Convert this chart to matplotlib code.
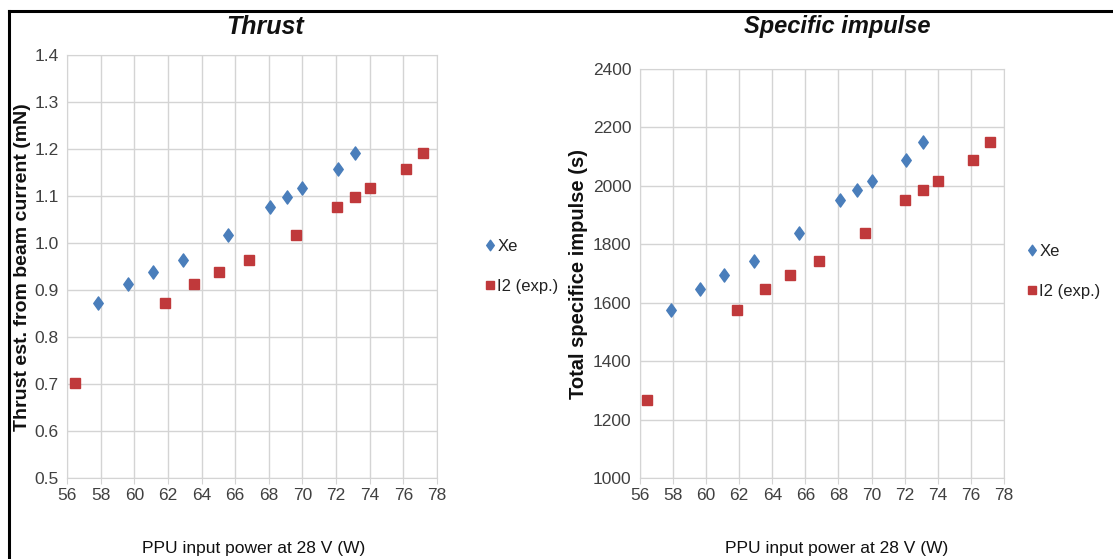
import matplotlib
matplotlib.use("Agg")
import matplotlib.pyplot as plt
from matplotlib.lines import Line2D
from matplotlib.path import Path

# datos
potencia_xe = [57.85, 59.6, 61.1, 62.9, 65.6, 68.1, 69.1, 70.0, 72.1, 73.1]
potencia_i2 = [56.45, 61.85, 63.55, 65.05, 66.85, 69.6, 72.05, 73.1, 74.0, 76.15, 77.15]

empuje_xe = [0.873, 0.912, 0.938, 0.963, 1.018, 1.077, 1.098, 1.117, 1.157, 1.192]
empuje_i2 = [0.703, 0.873, 0.912, 0.938, 0.963, 1.018, 1.077, 1.098, 1.117, 1.157, 1.192]

isp_xe = [1575, 1648, 1695, 1742, 1838, 1950, 1985, 2018, 2090, 2150]
isp_i2 = [1268, 1575, 1648, 1695, 1742, 1838, 1950, 1985, 2018, 2090, 2150]

ticks_x = list(range(56, 79, 2))
ticks_empuje = [0.5, 0.6, 0.7, 0.8, 0.9, 1.0, 1.1, 1.2, 1.3, 1.4]
ticks_isp = [1000, 1200, 1400, 1600, 1800, 2000, 2200, 2400]

AZUL = '#4a7ebb'
ROJO = '#c0393b'
GRIS = '#d4d4d4'
TEXTO = '#404040'

plt.rcParams['font.family'] = ['Liberation Sans', 'DejaVu Sans']

# rombo un poco mas alto que ancho, como el de Excel
rombo = Path([(0, 1), (0.72, 0), (0, -1), (-0.72, 0), (0, 1)],
             [Path.MOVETO, Path.LINETO, Path.LINETO, Path.LINETO, Path.CLOSEPOLY])

fig = plt.figure(figsize=(11.13, 5.59), dpi=100)
ax1 = fig.add_axes([0.0602, 0.1449, 0.3324, 0.7567])
ax2 = fig.add_axes([0.575, 0.1449, 0.327, 0.7317])


def preparar_eje(ax, ticks_y, formato):
    ax.set_xlim(56, 78)
    ax.set_xticks(ticks_x)
    ax.set_ylim(ticks_y[0], ticks_y[-1])
    ax.set_yticks(ticks_y)
    ax.set_yticklabels([formato.format(t) for t in ticks_y])
    ax.grid(True, color=GRIS, linewidth=1.0)
    ax.set_axisbelow(True)
    for lado in ax.spines.values():
        lado.set_color(GRIS)
    ax.tick_params(axis='both', labelsize=12.5, colors=TEXTO, length=0, pad=6)
    ax.tick_params(axis='x', length=4, color=GRIS, pad=3)


preparar_eje(ax1, ticks_empuje, '{:.1f}')
preparar_eje(ax2, ticks_isp, '{:.0f}')

for ax, y_xe, y_i2 in [(ax1, empuje_xe, empuje_i2), (ax2, isp_xe, isp_i2)]:
    ax.plot(potencia_xe, y_xe, linestyle='none', marker=rombo, markersize=9.5,
            color=AZUL, label='Xe', clip_on=False)
    ax.plot(potencia_i2, y_i2, linestyle='none', marker='s', markersize=6.5,
            color=ROJO, label='I2 (exp.)', clip_on=False)

# titulos
fig.text(0.238, 0.952, 'Thrust', ha='center', va='center', fontsize=18,
         fontweight='bold', fontstyle='italic', color='#111111')
fig.text(0.752, 0.952, 'Specific impulse', ha='center', va='center', fontsize=17,
         fontweight='bold', fontstyle='italic', color='#111111')

# etiquetas de los ejes
fig.text(0.228, 0.018, 'PPU input power at 28 V (W)', ha='center', va='center',
         fontsize=12.5, color='#111111')
fig.text(0.752, 0.018, 'PPU input power at 28 V (W)', ha='center', va='center',
         fontsize=12.5, color='#111111')
fig.text(0.0205, 0.522, 'Thrust est. from beam current (mN)', rotation=90,
         ha='center', va='center', fontsize=14, fontweight='bold', color='#111111')
fig.text(0.5195, 0.51, 'Total specifice impulse (s)', rotation=90,
         ha='center', va='center', fontsize=14.5, fontweight='bold', color='#111111')

# leyendas
for ax, ancla in [(ax1, (0.42, 0.6)), (ax2, (0.907, 0.59))]:
    ax.legend(loc='upper left', bbox_to_anchor=ancla, bbox_transform=fig.transFigure,
              frameon=False, fontsize=12, handletextpad=0.0, handlelength=0.9,
              labelspacing=1.5, markerscale=0.8, labelcolor='#222222')

# marco de la figura (solo arriba y a la izquierda)
fig.add_artist(Line2D([0.008, 1.0], [0.980, 0.980], transform=fig.transFigure,
                      color='black', linewidth=2.2))
fig.add_artist(Line2D([0.008, 0.008], [0.0, 0.980], transform=fig.transFigure,
                      color='black', linewidth=2.2))

fig.savefig('out.png', dpi=100)
